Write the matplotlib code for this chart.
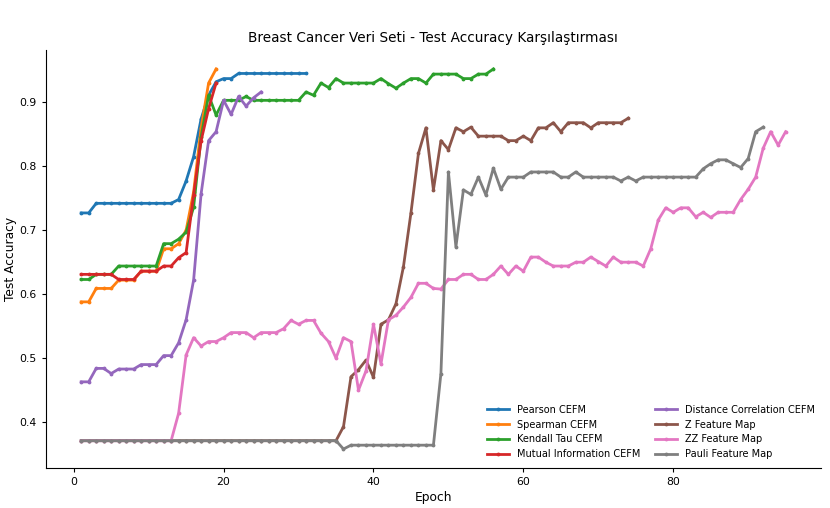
import matplotlib.pyplot as plt
import numpy as np

pearson = [0.727, 0.727, 0.742, 0.742, 0.742, 0.742, 0.742, 0.742, 0.742, 0.742,
           0.742, 0.742, 0.742, 0.748, 0.777, 0.815, 0.874, 0.911, 0.932, 0.937,
           0.937, 0.945, 0.945, 0.945, 0.945, 0.945, 0.945, 0.945, 0.945, 0.945,
           0.945]

spearman = [0.588, 0.588, 0.609, 0.609, 0.609, 0.622, 0.622, 0.622, 0.636, 0.636,
            0.636, 0.671, 0.671, 0.679, 0.700, 0.760, 0.860, 0.930, 0.952]

kendall = [0.623, 0.623, 0.631, 0.631, 0.631, 0.644, 0.644, 0.644, 0.644, 0.644,
           0.644, 0.679, 0.679, 0.686, 0.697, 0.736, 0.846, 0.911, 0.880, 0.903,
           0.903, 0.903, 0.909, 0.903, 0.903, 0.903, 0.903, 0.903, 0.903, 0.903,
           0.916, 0.911, 0.930, 0.923, 0.937, 0.930, 0.930, 0.930, 0.930, 0.930,
           0.937, 0.929, 0.922, 0.930, 0.937, 0.937, 0.930, 0.944, 0.944, 0.944,
           0.944, 0.937, 0.937, 0.944, 0.944, 0.952]

mutual = [0.631, 0.631, 0.631, 0.631, 0.631, 0.623, 0.623, 0.623, 0.636, 0.636,
          0.636, 0.644, 0.644, 0.657, 0.665, 0.755, 0.840, 0.890, 0.930]

dcor = [0.463, 0.463, 0.484, 0.484, 0.476, 0.483, 0.483, 0.483, 0.490, 0.490,
        0.490, 0.504, 0.504, 0.524, 0.560, 0.622, 0.757, 0.840, 0.854, 0.903,
        0.881, 0.909, 0.894, 0.907, 0.916]

z_map = [0.371, 0.371, 0.371, 0.371, 0.371, 0.371, 0.371, 0.371, 0.371, 0.371,
         0.371, 0.371, 0.371, 0.371, 0.371, 0.371, 0.371, 0.371, 0.371, 0.371,
         0.371, 0.371, 0.371, 0.371, 0.371, 0.371, 0.371, 0.371, 0.371, 0.371,
         0.371, 0.371, 0.371, 0.371, 0.371, 0.393, 0.471, 0.482, 0.497, 0.470,
         0.553, 0.560, 0.585, 0.643, 0.727, 0.820, 0.860, 0.763, 0.840, 0.826,
         0.860, 0.854, 0.861, 0.847, 0.847, 0.847, 0.847, 0.840, 0.840, 0.847,
         0.840, 0.860, 0.860, 0.868, 0.854, 0.868, 0.868, 0.868, 0.860, 0.868,
         0.868, 0.868, 0.868, 0.875]

zz_map = [0.371, 0.371, 0.371, 0.371, 0.371, 0.371, 0.371, 0.371, 0.371, 0.371,
          0.371, 0.371, 0.371, 0.414, 0.505, 0.532, 0.519, 0.526, 0.526, 0.532,
          0.540, 0.540, 0.540, 0.532, 0.540, 0.540, 0.540, 0.546, 0.559, 0.553,
          0.559, 0.559, 0.539, 0.526, 0.500, 0.532, 0.526, 0.450, 0.480, 0.553,
          0.491, 0.560, 0.567, 0.580, 0.595, 0.617, 0.617, 0.609, 0.608, 0.623,
          0.623, 0.631, 0.631, 0.623, 0.623, 0.631, 0.644, 0.631, 0.644, 0.636,
          0.658, 0.658, 0.650, 0.644, 0.644, 0.644, 0.650, 0.650, 0.658, 0.651,
          0.644, 0.658, 0.650, 0.650, 0.650, 0.644, 0.671, 0.716, 0.735, 0.728,
          0.735, 0.735, 0.721, 0.728, 0.720, 0.728, 0.728, 0.728, 0.748, 0.764,
          0.783, 0.828, 0.854, 0.833, 0.854]

pauli = [0.371, 0.371, 0.371, 0.371, 0.371, 0.371, 0.371, 0.371, 0.371, 0.371,
         0.371, 0.371, 0.371, 0.371, 0.371, 0.371, 0.371, 0.371, 0.371, 0.371,
         0.371, 0.371, 0.371, 0.371, 0.371, 0.371, 0.371, 0.371, 0.371, 0.371,
         0.371, 0.371, 0.371, 0.371, 0.371, 0.358, 0.364, 0.364, 0.364, 0.364,
         0.364, 0.364, 0.364, 0.364, 0.364, 0.364, 0.364, 0.364, 0.476, 0.791,
         0.674, 0.763, 0.756, 0.783, 0.755, 0.797, 0.764, 0.783, 0.783, 0.783,
         0.791, 0.791, 0.791, 0.791, 0.783, 0.783, 0.791, 0.783, 0.783, 0.783,
         0.783, 0.783, 0.777, 0.783, 0.777, 0.783, 0.783, 0.783, 0.783, 0.783,
         0.783, 0.783, 0.783, 0.796, 0.804, 0.810, 0.810, 0.804, 0.798, 0.812,
         0.854, 0.861]

series = [
    ('Pearson CEFM', pearson),
    ('Spearman CEFM', spearman),
    ('Kendall Tau CEFM', kendall),
    ('Mutual Information CEFM', mutual),
    ('Distance Correlation CEFM', dcor),
    ('Z Feature Map', z_map),
    ('ZZ Feature Map', zz_map),
    ('Pauli Feature Map', pauli),
]

fig = plt.figure(figsize=(8.3, 5.08), dpi=100)
ax = fig.add_axes([0.0554, 0.0787, 0.9336, 0.8229])

for name, vals in series:
    epochs = np.arange(1, len(vals) + 1)
    ax.plot(epochs, vals, marker='.', markersize=3.5, linewidth=2, label=name)

ax.set_title('Breast Cancer Veri Seti - Test Accuracy Karşılaştırması', fontsize=9.8)
ax.set_xlabel('Epoch', fontsize=8.8, labelpad=3)
ax.set_ylabel('Test Accuracy', fontsize=8.8, labelpad=2)
ax.set_yticks([0.4, 0.5, 0.6, 0.7, 0.8, 0.9])
ax.set_xticks([0, 20, 40, 60, 80])
ax.tick_params(labelsize=7.8, length=3)
ax.spines['top'].set_visible(False)
ax.spines['right'].set_visible(False)

ax.legend(ncol=2, loc='lower right', fontsize=7.0, frameon=False,
          columnspacing=1.5, handlelength=2.3, labelspacing=0.5,
          bbox_to_anchor=(1.004, 0.0))

fig.savefig('out.png', dpi=100)
